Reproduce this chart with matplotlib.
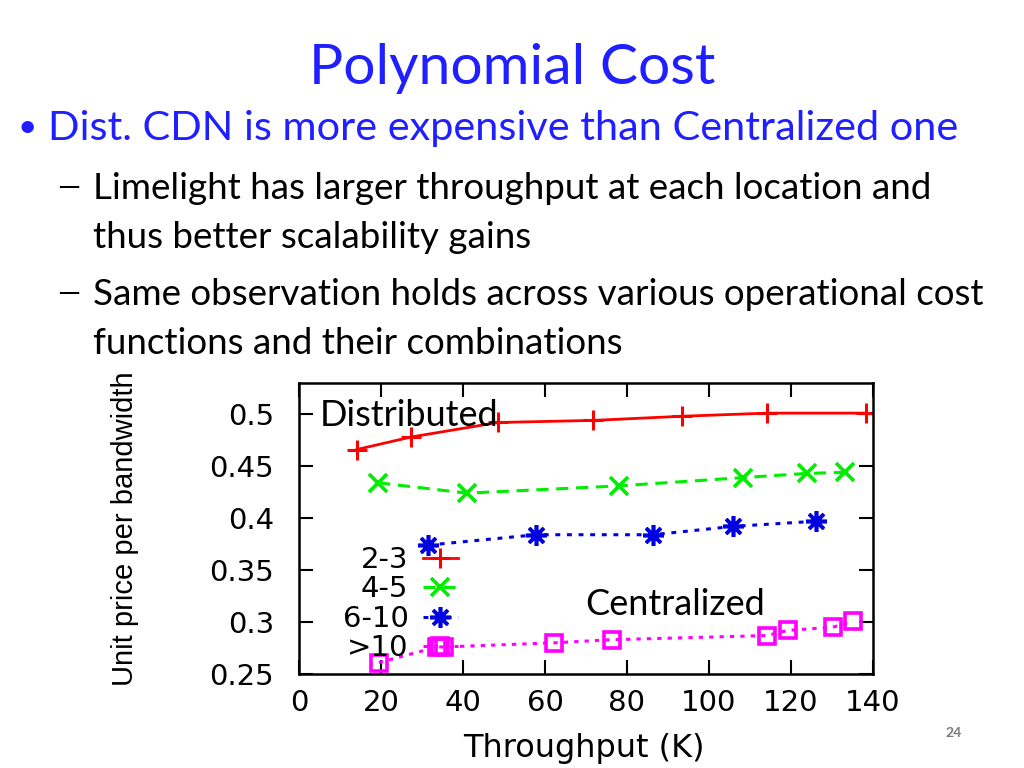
"""plot.py
slide: polynomial cost, distributed vs centralized CDN
"""
import matplotlib
matplotlib.use('Agg')
import matplotlib.pyplot as plt

# ---- data ----
x_23 = [14.1, 27.3, 48.5, 71.7, 93.4, 114.1, 138.3]
y_23 = [0.466, 0.478, 0.492, 0.494, 0.498, 0.501, 0.501]

x_45 = [19.3, 41.0, 78.0, 108.3, 123.9, 133.2]
y_45 = [0.434, 0.424, 0.431, 0.439, 0.443, 0.444]

x_610 = [31.5, 57.8, 86.3, 105.9, 126.1]
y_610 = [0.374, 0.384, 0.384, 0.392, 0.397]

x_gt10 = [19.5, 33.7, 35.4, 62.2, 76.3, 114.1, 119.3, 130.2, 135.1]
y_gt10 = [0.261, 0.276, 0.276, 0.280, 0.283, 0.287, 0.292, 0.295, 0.301]

labels = ['2-3', '4-5', '6-10', '>10']
x_ticks = [0, 20, 40, 60, 80, 100, 120, 140]
y_ticks = [0.25, 0.3, 0.35, 0.4, 0.45, 0.5]
y_ticklabels = ['0.25', '0.3', '0.35', '0.4', '0.45', '0.5']

title = 'Polynomial Cost'
bullet = 'Dist. CDN is more expensive than Centralized one'
sub1 = ['Limelight has larger throughput at each location and',
        'thus better scalability gains']
sub2 = ['Same observation holds across various operational cost',
        'functions and their combinations']

BLUE = '#1f1fff'
SLIDE_FONT = ['Lato', 'DejaVu Sans']
CHART_FONT = ['DejaVu Sans']


def main():
    fig = plt.figure(figsize=(10.24, 7.68), dpi=100)

    # ======= slide text ========
    fig.text(0.5, 0.911, title, ha='center', va='center', color=BLUE,
             fontsize=41, family=SLIDE_FONT)
    fig.text(0.017, 0.833, '\u2022', ha='left', va='center', color=BLUE,
             fontsize=24, family=SLIDE_FONT)
    fig.text(0.047, 0.833, bullet, ha='left', va='center', color=BLUE,
             fontsize=29.8, family=SLIDE_FONT)
    for dy, lines in [(0.755, sub1), (0.617, sub2)]:
        fig.text(0.056, dy, '\u2014', ha='left', va='center', color='black',
                 fontsize=21, family=SLIDE_FONT)
        fig.text(0.091, dy, lines[0], ha='left', va='center', color='black',
                 fontsize=26.5, family=SLIDE_FONT)
        fig.text(0.091, dy - 0.064, lines[1], ha='left', va='center',
                 color='black', fontsize=26.5, family=SLIDE_FONT)
    fig.text(0.931, 0.045, '24', ha='center', va='center', color='#7a7a7a',
             fontsize=10, fontweight='bold', family=SLIDE_FONT)

    # ======= plotting ========
    ax = fig.add_axes([0.292, 0.1224, 0.5605, 0.3789])
    ax.plot(x_23, y_23, color='#ff0000', lw=2, marker='+', ms=15, mew=2.2,
            label=labels[0])
    ax.plot(x_45, y_45, color='#00ee00', lw=2.2, ls=(0, (4, 2.5)), marker='x',
            ms=13, mew=2.6, label=labels[1])
    ax.plot(x_610, y_610, color='#0000e0', lw=2.2, ls=(0, (1.6, 2.2)),
            marker=(8, 2, 0), ms=15, mew=2.6, label=labels[2])
    ax.plot(x_gt10, y_gt10, color='#ff00ff', lw=2.2, ls=(0, (1.4, 2)),
            marker='s', ms=12, mew=2.6, mfc='none', label=labels[3])

    ax.set_xlim(0, 140)
    ax.set_ylim(0.25, 0.53)
    ax.set_xticks(x_ticks)
    ax.set_yticks(y_ticks)
    ax.set_xticklabels([str(t) for t in x_ticks], family=CHART_FONT)
    ax.set_yticklabels(y_ticklabels, family=CHART_FONT)
    ax.tick_params(direction='in', top=True, right=True, length=10, width=1.5,
                   labelsize=21)
    ax.tick_params(axis='x', pad=11)
    ax.tick_params(axis='y', pad=18)
    for s in ax.spines.values():
        s.set_linewidth(1.8)

    ax.set_xlabel('Throughput (K)', fontsize=23, family=CHART_FONT)
    ax.xaxis.set_label_coords(0.497, -0.203)
    ax.set_ylabel('Unit price per bandwidth', fontsize=21,
                  family=['Liberation Sans', 'DejaVu Sans'])
    ax.yaxis.set_label_coords(-0.278, 0.498)

    ax.text(5.1, 0.489, 'Distributed', fontsize=26, family=SLIDE_FONT,
            va='baseline', ha='left')
    ax.text(69.8, 0.307, 'Centralized', fontsize=26, family=SLIDE_FONT,
            va='baseline', ha='left')

    ax.legend(loc='upper right', bbox_to_anchor=(0.277, 0.44), frameon=False,
              markerfirst=False, handlelength=1.2, handletextpad=0.5,
              labelspacing=0.05, borderaxespad=0, borderpad=0,
              prop={'family': CHART_FONT, 'size': 21})

    fig.savefig('out.png', dpi=100)


if __name__ == "__main__":
    main()
